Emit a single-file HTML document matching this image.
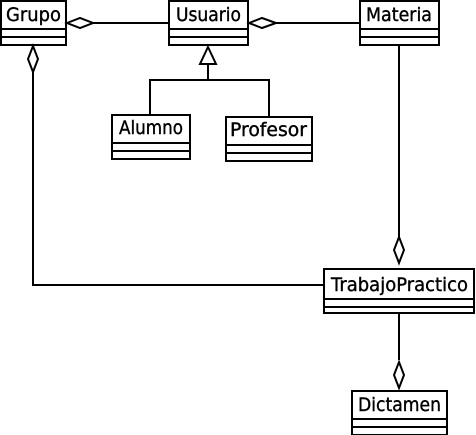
<!DOCTYPE html><html><head><style>body{margin:0;background:#fff}svg{display:block}</style></head><body>
<svg width="476" height="435" viewBox="0 0 476 435" fill="none" stroke="#000" stroke-width="2">
<g fill="#fff">
<rect x="1" y="1" width="65" height="44"/><line x1="1" y1="29" x2="66" y2="29"/><line x1="1" y1="37" x2="66" y2="37"/>
<rect x="169" y="1" width="79" height="44"/><line x1="169" y1="29" x2="248" y2="29"/><line x1="169" y1="37" x2="248" y2="37"/>
<rect x="360" y="1" width="79" height="44"/><line x1="360" y1="29" x2="439" y2="29"/><line x1="360" y1="37" x2="439" y2="37"/>
<rect x="112" y="115" width="78" height="44"/><line x1="112" y1="143" x2="190" y2="143"/><line x1="112" y1="151" x2="190" y2="151"/>
<rect x="226" y="117" width="86" height="44"/><line x1="226" y1="145" x2="312" y2="145"/><line x1="226" y1="153" x2="312" y2="153"/>
<rect x="324" y="269" width="150" height="44"/><line x1="324" y1="299" x2="474" y2="299"/><line x1="324" y1="307" x2="474" y2="307"/>
<rect x="352" y="391" width="95" height="44"/><line x1="352" y1="419" x2="447" y2="419"/><line x1="352" y1="427" x2="447" y2="427"/>
</g>
<path d="M93 23H169M276 23H359M33 72V285H324M399 45V237M399 313V360M208 64V80M150 115V80H269V117"/>
<path fill="#fff" d="M67 23L80 18L93 23L80 28Z M249 23L262 18L276 23L262 28Z M33 46L38 59L33 72L28 59Z M399 237L404 250L399 263L394 250Z M399 362L404 375L399 388L394 375Z M208 47L216 64H200Z"/>
<g stroke="#000" stroke-width="0.4" fill="#000" font-family="DejaVu Sans, sans-serif" font-size="19">
<text x="6" y="21" textLength="55" lengthAdjust="spacingAndGlyphs">Grupo</text>
<text x="176" y="21" textLength="65" lengthAdjust="spacingAndGlyphs">Usuario</text>
<text x="366" y="21" textLength="66" lengthAdjust="spacingAndGlyphs">Materia</text>
<text x="119" y="134" textLength="64" lengthAdjust="spacingAndGlyphs">Alumno</text>
<text x="230" y="136" textLength="77" lengthAdjust="spacingAndGlyphs">Profesor</text>
<text x="331" y="291" textLength="137" lengthAdjust="spacingAndGlyphs">TrabajoPractico</text>
<text x="358" y="411" textLength="83" lengthAdjust="spacingAndGlyphs">Dictamen</text>
</g>
</svg></body></html>
